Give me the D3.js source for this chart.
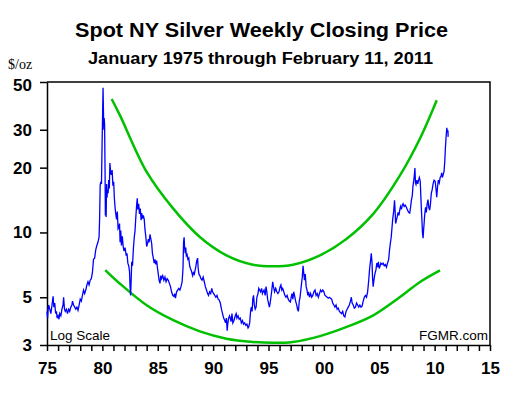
<!DOCTYPE html>
<html>
<head>
<meta charset="utf-8">
<script src="https://cdn.jsdelivr.net/npm/d3@7"></script>
<style>
  body { margin: 0; background: #fff; }
  svg { display: block; }
  .axis text { font-family: "Liberation Sans", Arial, sans-serif; font-weight: bold; font-size: 17px; fill: #000; }
  .axis line, .axis path { stroke: #000; stroke-width: 1.5; }
</style>
</head>
<body>
<div id="chart"></div>
<script>
// weekly close (decimal year, $/oz)
var years = [
1975.00,1975.05,1975.10,1975.15,1975.25,1975.35,1975.45,1975.55,1975.62,1975.70,1975.78,1975.85,1975.92,
1976.00,1976.08,1976.15,1976.25,1976.35,1976.45,1976.50,1976.58,1976.65,1976.75,1976.85,1976.95,
1977.05,1977.15,1977.25,1977.30,1977.40,1977.50,1977.60,1977.70,1977.80,1977.90,
1978.00,1978.10,1978.20,1978.30,1978.40,1978.50,1978.60,1978.70,1978.80,1978.90,
1979.00,1979.10,1979.20,1979.30,1979.40,1979.50,1979.60,1979.70,1979.75,1979.80,1979.85,1979.92,1979.97,
1980.02,1980.06,1980.10,1980.13,1980.16,1980.20,1980.24,1980.27,1980.30,1980.34,1980.38,1980.42,1980.47,1980.52,1980.57,1980.63,1980.68,1980.73,1980.80,1980.88,1980.95,
1981.02,1981.08,1981.14,1981.20,1981.28,1981.35,1981.42,1981.50,1981.55,1981.60,1981.66,1981.72,1981.80,1981.88,1981.95,
1982.05,1982.15,1982.22,1982.30,1982.38,1982.45,1982.50,1982.55,1982.60,1982.65,1982.72,1982.80,1982.88,1982.95,
1983.02,1983.10,1983.15,1983.20,1983.28,1983.35,1983.42,1983.50,1983.55,1983.62,1983.70,1983.78,1983.85,1983.92,
1984.00,1984.08,1984.15,1984.22,1984.30,1984.38,1984.45,1984.52,1984.60,1984.68,1984.75,1984.82,1984.90,1984.98,
1985.05,1985.12,1985.20,1985.28,1985.35,1985.45,1985.55,1985.65,1985.75,1985.85,1985.95,
1986.05,1986.15,1986.25,1986.35,1986.45,1986.52,1986.60,1986.70,1986.80,1986.90,
1987.00,1987.10,1987.20,1987.28,1987.33,1987.38,1987.42,1987.48,1987.53,1987.58,1987.65,1987.72,1987.80,1987.88,1987.95,
1988.05,1988.15,1988.22,1988.30,1988.38,1988.45,1988.52,1988.60,1988.65,1988.72,1988.80,1988.90,
1989.00,1989.10,1989.20,1989.30,1989.40,1989.50,1989.58,1989.68,1989.78,1989.88,1989.95,
1990.05,1990.15,1990.25,1990.35,1990.45,1990.55,1990.65,1990.75,1990.85,1990.95,
1991.05,1991.12,1991.20,1991.27,1991.32,1991.40,1991.48,1991.55,1991.62,1991.70,1991.78,1991.88,
1992.00,1992.08,1992.15,1992.25,1992.35,1992.45,1992.55,1992.65,1992.75,1992.85,1992.95,
1993.05,1993.15,1993.22,1993.30,1993.38,1993.45,1993.52,1993.58,1993.65,1993.72,1993.80,1993.88,1993.95,
1994.05,1994.12,1994.20,1994.28,1994.38,1994.45,1994.52,1994.60,1994.70,1994.78,1994.85,1994.92,
1995.00,1995.08,1995.15,1995.22,1995.30,1995.38,1995.45,1995.55,1995.65,1995.75,1995.85,1995.95,
1996.05,1996.12,1996.20,1996.28,1996.38,1996.48,1996.58,1996.68,1996.78,1996.88,1996.98,
1997.05,1997.12,1997.20,1997.28,1997.35,1997.45,1997.55,1997.62,1997.70,1997.78,1997.85,1997.92,
1998.00,1998.05,1998.12,1998.18,1998.25,1998.32,1998.40,1998.48,1998.55,1998.62,1998.70,1998.80,1998.90,
1999.00,1999.10,1999.20,1999.30,1999.40,1999.50,1999.60,1999.70,1999.80,1999.90,
2000.00,2000.10,2000.20,2000.30,2000.40,2000.50,2000.60,2000.70,2000.80,2000.90,
2001.00,2001.10,2001.20,2001.30,2001.40,2001.50,2001.60,2001.70,2001.80,2001.90,
2002.00,2002.10,2002.20,2002.30,2002.40,2002.48,2002.55,2002.65,2002.75,2002.85,2002.95,
2003.05,2003.15,2003.25,2003.35,2003.45,2003.55,2003.65,2003.75,2003.85,2003.95,
2004.05,2004.12,2004.20,2004.28,2004.35,2004.40,2004.45,2004.52,2004.60,2004.70,2004.78,2004.85,2004.92,
2005.00,2005.08,2005.15,2005.25,2005.35,2005.45,2005.55,2005.65,2005.75,2005.85,2005.92,
2006.00,2006.08,2006.15,2006.22,2006.30,2006.38,2006.42,2006.48,2006.55,2006.62,2006.70,2006.78,2006.85,2006.92,
2007.00,2007.08,2007.15,2007.25,2007.35,2007.45,2007.55,2007.65,2007.75,2007.82,2007.90,2007.98,
2008.05,2008.12,2008.17,2008.22,2008.27,2008.32,2008.40,2008.48,2008.55,2008.62,2008.70,2008.75,2008.80,2008.85,2008.90,2008.96,
2009.00,2009.05,2009.10,2009.18,2009.25,2009.32,2009.40,2009.48,2009.55,2009.62,2009.70,2009.78,2009.86,2009.95,
2010.05,2010.12,2010.19,2010.26,2010.33,2010.42,2010.50,2010.58,2010.64,2010.70,2010.78,2010.85,2010.92,2010.97,
2011.03,2011.10,2011.15,2011.20,2011.22
];
var prices = [
4.3,4.0,4.4,4.6,4.4,4.2,4.6,5.05,4.5,4.7,4.2,4.3,4.0,
4.1,3.95,4.2,4.1,4.4,4.6,5.0,4.4,4.3,4.4,4.2,4.4,
4.3,4.5,4.6,4.8,4.6,4.5,4.4,4.5,4.35,4.6,
4.9,4.8,5.1,5.4,5.2,5.4,5.7,5.9,5.7,6.0,
6.1,6.5,7.5,7.6,8.3,8.7,9.0,9.5,11.5,16.5,17.2,16.8,25,
35,47,36,30,34,32,20,12,15,11.8,16.8,14.5,15.8,15.2,17.5,16,21,19.5,18.5,19.5,16.5,
17.2,14.5,13.2,12.3,11.5,12.5,10.4,10.6,11.0,9.0,10.2,8.7,9.6,8.6,8.2,
8.5,7.8,8.0,7.2,7.0,6.6,5.6,5.1,6.0,7.3,7.0,8.4,9.5,10.2,
11.8,13.5,14.4,12.8,13.6,12.2,12.9,11.4,12.3,11.6,12.0,11.5,10.3,9.6,
8.6,8.9,9.3,9.0,9.8,9.3,8.9,8.0,7.6,7.2,7.5,7.1,7.4,6.8,
6.4,6.0,5.8,6.3,6.1,6.3,6.0,6.2,5.9,6.1,6.0,
5.8,5.6,5.3,5.1,5.05,5.2,4.95,5.3,5.4,5.5,
5.4,5.6,5.9,6.8,9.0,9.5,8.6,8.0,8.5,7.8,7.9,7.5,7.6,7.0,6.8,
6.6,6.3,6.5,6.4,6.7,7.0,7.4,7.6,6.8,6.4,6.3,6.1,
6.0,6.2,5.9,5.6,5.4,5.2,5.1,5.3,5.2,5.5,5.3,
5.2,5.1,5.0,5.1,4.9,4.85,4.7,4.4,4.2,4.0,
3.9,3.8,4.0,3.5,3.75,4.0,4.1,4.0,3.85,4.2,3.8,3.9,
4.1,4.2,4.0,4.1,3.95,4.0,3.8,3.9,3.75,3.8,3.7,
3.75,3.6,3.65,3.8,4.3,4.5,4.3,4.9,5.1,4.6,4.4,4.5,5.0,
5.2,5.5,5.4,5.3,5.5,5.2,5.3,5.4,5.1,5.6,5.3,4.9,
4.7,4.5,4.7,5.0,5.4,5.9,5.6,5.3,5.5,5.3,5.2,5.3,
5.6,5.7,5.4,5.5,5.3,5.1,5.0,5.1,4.9,4.8,4.75,
5.0,5.2,4.9,5.3,5.1,4.8,4.6,4.4,4.3,4.8,5.0,5.4,
5.9,6.2,7.0,6.5,6.0,6.4,5.6,5.4,5.1,5.3,5.0,5.2,5.0,
5.1,5.3,5.4,5.1,5.2,5.0,5.2,5.4,5.3,5.4,
5.3,5.1,5.05,5.0,4.95,5.0,4.95,4.9,4.7,4.6,
4.5,4.6,4.4,4.45,4.3,4.25,4.2,4.3,4.1,4.05,
4.3,4.4,4.5,4.6,4.8,5.0,4.7,4.6,4.45,4.5,4.7,
4.6,4.5,4.6,4.5,4.55,4.8,5.0,5.1,5.0,5.3,
6.0,6.7,7.3,8.0,7.2,6.1,5.6,6.0,6.4,6.7,7.2,6.9,7.3,
6.8,7.0,7.2,7.1,7.2,7.0,7.1,6.9,7.2,7.5,8.2,
8.9,9.5,10.5,11.6,12.5,14.1,13.0,11.0,11.4,11.8,12.4,12.0,12.7,13.2,
12.8,13.4,13.6,13.2,13.4,13.1,12.7,12.4,12.3,13.0,14.1,14.8,
16.5,17.5,18.5,19.9,17.0,16.7,17.5,16.8,17.5,18.0,17.3,15.0,13.0,11.5,10.0,9.4,
10.2,11.0,12.0,13.1,12.4,13.5,14.2,13.0,12.7,13.5,15.2,15.8,16.8,17.5,
17.3,16.0,14.6,16.2,17.5,17.0,18.0,18.3,18.9,18.0,18.6,19.2,21.5,24.5,
27.5,30.6,29.2,29.8,27.8
];

// upper and lower trend curves
var upperYears = [1980.84,1981.59,1984.0,1986.4,1988.8,1991.2,1993.6,1995.4,1997.2,1999.65,2002.06,2004.46,2006.87,2008.68,2010.19];
var upperPrices = [41.7,35.0,19.1,12.9,9.53,7.83,7.08,6.96,7.08,7.83,9.35,12.2,18.4,27.3,41.1];
var lowerYears = [1980.26,1981.59,1984.0,1986.4,1988.8,1991.2,1993.6,1995.4,1997.2,1999.65,2002.06,2004.46,2006.87,2008.68,2010.49];
var lowerPrices = [6.69,5.78,4.59,3.91,3.47,3.21,3.10,3.07,3.10,3.30,3.64,4.12,5.01,5.89,6.67];

var yTicks = [3, 5, 10, 20, 30, 50];
var xTickLabels = ["75","80","85","90","95","00","05","10","15"];

var width = 522, height = 393;

var svg = d3.select("#chart").append("svg")
    .attr("width", width)
    .attr("height", height);

var x = d3.scaleLinear().domain([1975, 2015]).range([47, 490]);
var y = d3.scaleLog().domain([3, 50]).range([345, 82]);

// titles
svg.append("text")
    .attr("x", 75).attr("y", 37)
    .attr("textLength", 373)
    .attr("lengthAdjust", "spacingAndGlyphs")
    .style("font-family", "'Liberation Sans', Arial, sans-serif")
    .style("font-weight", "bold")
    .style("font-size", "20px")
    .text("Spot NY Silver Weekly Closing Price");

svg.append("text")
    .attr("x", 88).attr("y", 64)
    .attr("textLength", 345)
    .attr("lengthAdjust", "spacingAndGlyphs")
    .style("font-family", "'Liberation Sans', Arial, sans-serif")
    .style("font-weight", "bold")
    .style("font-size", "16px")
    .text("January 1975 through February 11, 2011");

svg.append("text")
    .attr("x", 8).attr("y", 69)
    .style("font-family", "'Liberation Serif', 'Times New Roman', serif")
    .style("font-size", "14px")
    .text("$/oz");

// axes
var xAxis = d3.axisBottom(x)
    .tickValues(d3.range(1975, 2016))
    .tickSize(6)
    .tickSizeOuter(0)
    .tickPadding(11)
    .tickFormat(function(d) {
      return (d % 5 === 0) ? xTickLabels[(d - 1975) / 5] : "";
    });

svg.append("g")
    .attr("class", "axis")
    .attr("transform", "translate(0,345)")
    .call(xAxis);

var yAxis = d3.axisLeft(y)
    .tickValues(yTicks)
    .tickSize(7)
    .tickSizeOuter(0)
    .tickPadding(8)
    .tickFormat(d3.format("d"));

var yG = svg.append("g")
    .attr("class", "axis")
    .attr("transform", "translate(47,0)")
    .call(yAxis);

// top label sits a bit lower, as in the original
yG.selectAll(".tick text")
    .filter(function(d) { return d === 50; })
    .attr("dy", "0.5em");

// top and right border
svg.append("path")
    .attr("d", "M47,82H490V345")
    .attr("fill", "none")
    .attr("stroke", "#000")
    .attr("stroke-width", 1.5);

// trend curves
var curve = d3.line()
    .x(function(d) { return x(d[0]); })
    .y(function(d) { return y(d[1]); })
    .curve(d3.curveCatmullRom);

svg.append("path")
    .datum(d3.zip(upperYears, upperPrices))
    .attr("fill", "none")
    .attr("stroke", "#00c000")
    .attr("stroke-width", 2.5)
    .attr("d", curve);

svg.append("path")
    .datum(d3.zip(lowerYears, lowerPrices))
    .attr("fill", "none")
    .attr("stroke", "#00c000")
    .attr("stroke-width", 2.5)
    .attr("d", curve);

// price line
var line = d3.line()
    .x(function(d) { return x(d[0]); })
    .y(function(d) { return y(d[1]); });

svg.append("path")
    .datum(d3.zip(years, prices))
    .attr("fill", "none")
    .attr("stroke", "#0000ff")
    .attr("stroke-width", 1.3)
    .attr("d", line);

// corner notes
svg.append("text")
    .attr("x", 50).attr("y", 340)
    .style("font-family", "'Liberation Sans', Arial, sans-serif")
    .style("font-size", "13.5px")
    .text("Log Scale");

svg.append("text")
    .attr("x", 488).attr("y", 340)
    .attr("text-anchor", "end")
    .style("font-family", "'Liberation Sans', Arial, sans-serif")
    .style("font-size", "13.5px")
    .text("FGMR.com");
</script>
</body>
</html>
